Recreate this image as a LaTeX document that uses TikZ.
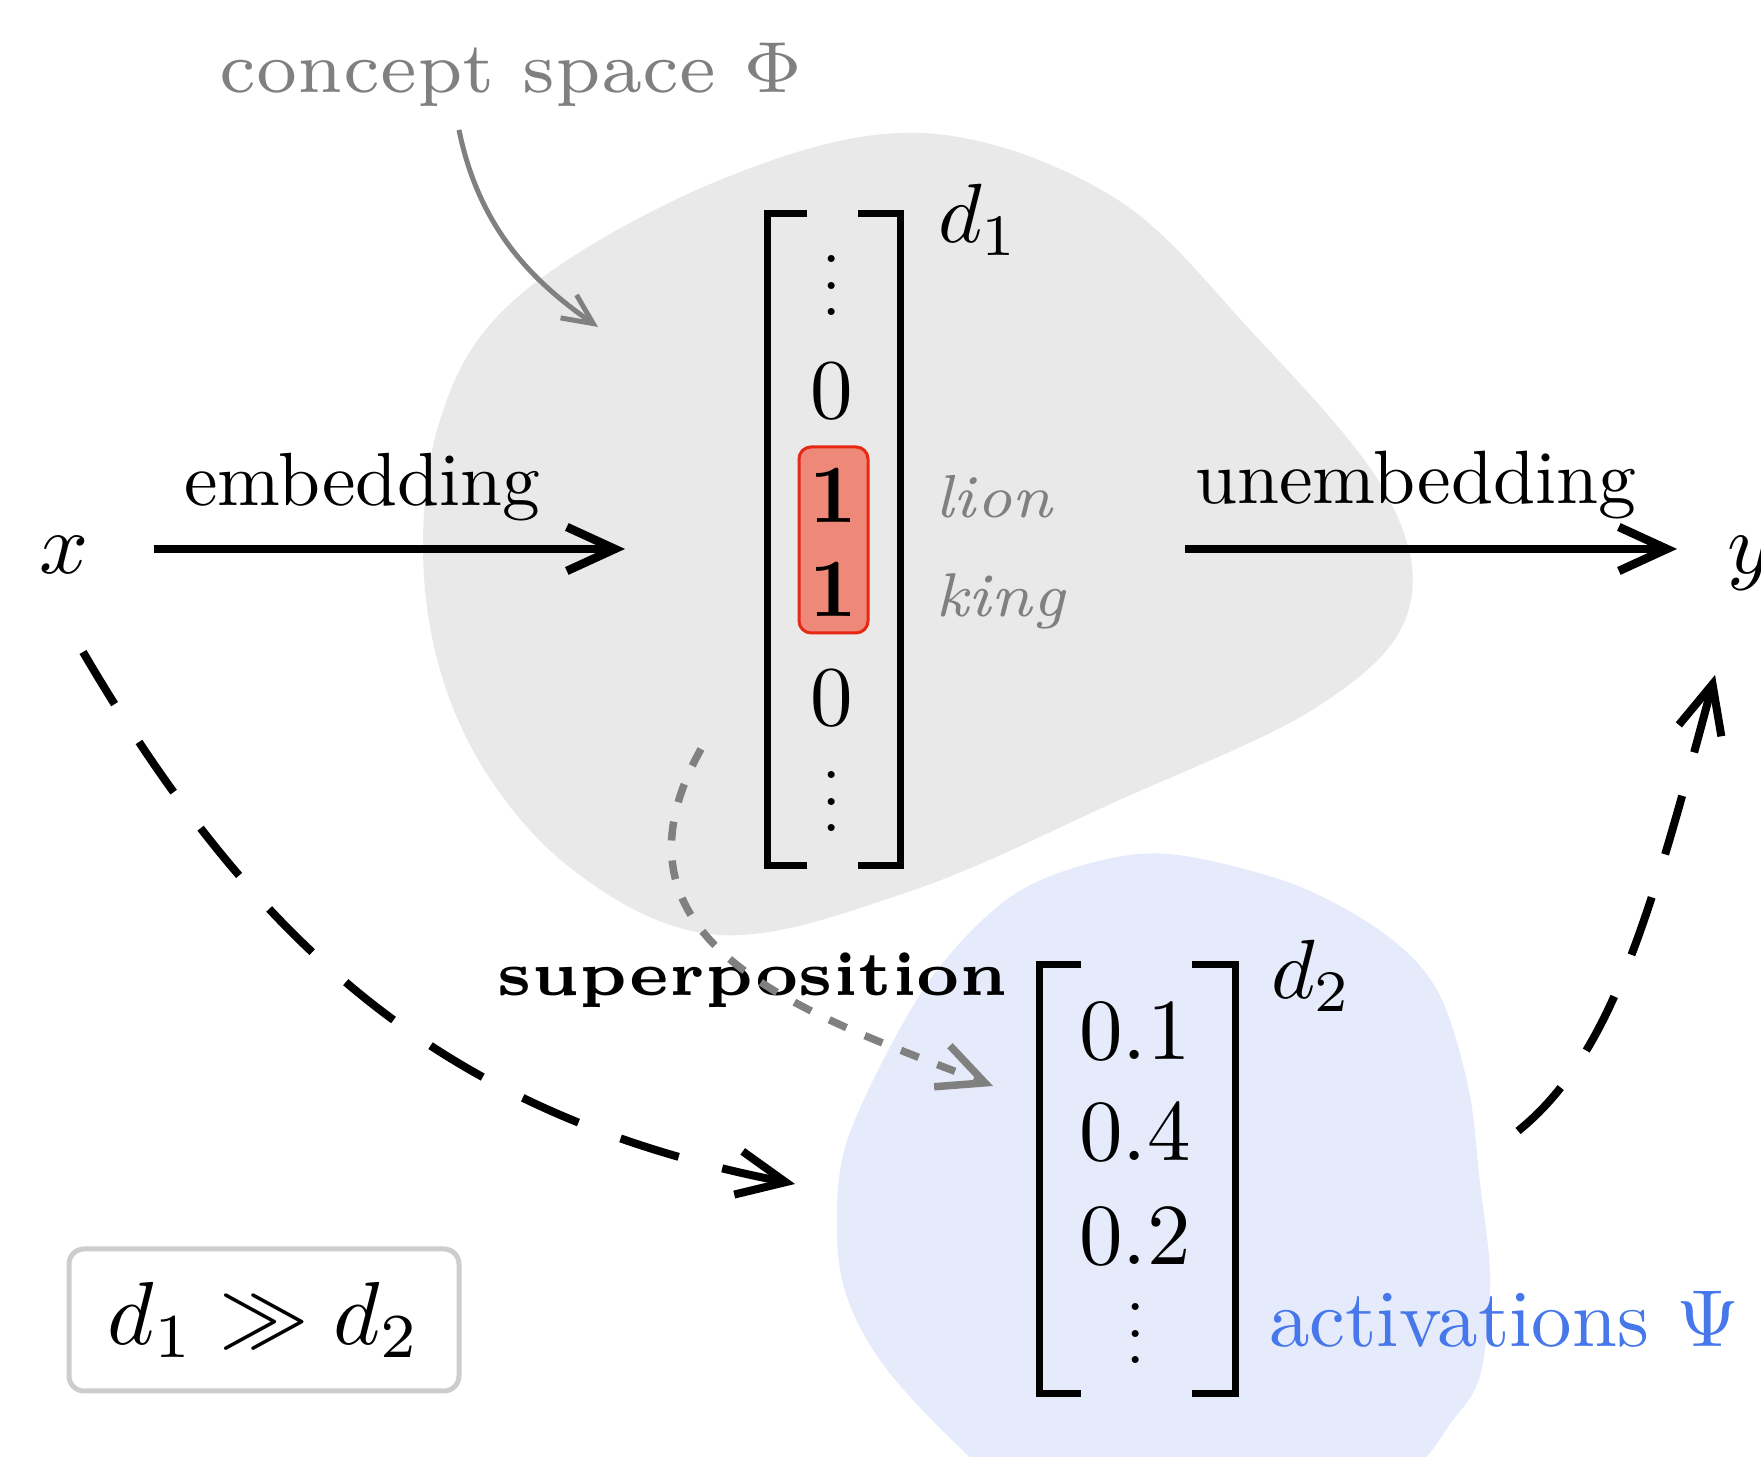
\documentclass[tikz,border=0pt]{standalone}
\usepackage{graphicx}
\usetikzlibrary{arrows.meta}
\definecolor{blobgray}{RGB}{233,233,233}
\definecolor{blobblue}{RGB}{229,235,250}
\definecolor{labelgray}{RGB}{128,128,128}
\definecolor{actblue}{RGB}{70,120,235}
\definecolor{hlfill}{RGB}{238,136,120}
\definecolor{hlline}{RGB}{230,40,20}
\definecolor{boxgray}{RGB}{205,205,205}
\newcommand{\fitw}[3]{\resizebox{#1}{!}{\fontsize{#2}{#2}\selectfont #3}}
\newcommand{\myvdots}{\scalebox{0.66}{\smash{$\vdots$}}}
\tikzset{
  solidarr/.style={line width=0.85pt,-{Straight Barb[length=4.8pt,width=4.4pt]}},
  dasharr/.style={line width=0.8pt,dash pattern=on 6.1pt off 4.5pt,-{Straight Barb[length=4.8pt,width=4.4pt]}},
  dotarr/.style={labelgray,line width=0.75pt,dash pattern=on 1.9pt off 2pt,-{Straight Barb[length=4.6pt,width=4.4pt]}},
  conarr/.style={labelgray,line width=0.5pt,-{Straight Barb[length=3pt,width=2.8pt]}},
  brk/.style={line width=0.7pt},
  hlbox/.style={fill=hlfill,draw=hlline,line width=0.3pt,rounded corners=1.2pt,minimum width=6.9pt,minimum height=18.6pt},
}
\begin{document}
\begin{tikzpicture}[x=0.1pt,y=-0.1pt,every node/.style={inner sep=0pt,outer sep=0pt}]
\useasboundingbox (0,0) rectangle (1761,1457);
\clip (0,0) rectangle (1761,1457);
% blobs
\fill[blobgray] plot[smooth cycle,tension=0.6] coordinates {(920,133) (1110,195) (1250,330) (1384,490) (1408,612) (1317,707) (1115,802) (911,891) (720,935) (573,870) (470,745) (425,590) (440,420) (520,295) (720,180)};
\fill[blobblue] plot[smooth cycle,tension=0.55] coordinates {(1168,854) (1290,883) (1382,932) (1437,990) (1468,1086) (1480,1183) (1490,1279) (1480,1376) (1450,1424) (1413,1470) (1300,1560) (1100,1560) (984,1470) (892,1376) (849,1303) (837,1231) (849,1135) (923,990) (1002,903) (1080,866)};
% top vector d1
\node[hlbox] (hl) at (833.5,540) {};
\draw[brk] (807,214) -- (767,214) -- (767,866) -- (807,866);
\draw[brk] (858,214) -- (900,214) -- (900,866) -- (858,866);
\node[anchor=base] (vd1) at (832,315.5) {\myvdots};
\node[anchor=base] (z1) at (832,419) {\scalebox{0.85}{0}};
\node[anchor=base] (one1) at (833,523) {\scalebox{0.83}{\bfseries 1}};
\node[anchor=base] (one2) at (833,617) {\scalebox{0.83}{\bfseries 1}};
\node[anchor=base] (z2) at (832,726) {\scalebox{0.85}{0}};
\node[anchor=base] (vd2) at (832,831.5) {\myvdots};
\node[anchor=base west] (dA) at (938,243) {\scalebox{0.84}{$d_1$}};
\node[anchor=base west,text=labelgray] (lion) at (935,518) {\fitw{11.8pt}{7}{\itshape lion}};
\node[anchor=base west,text=labelgray] (king) at (935,617) {\fitw{13.1pt}{7}{\itshape king}};
% bottom vector d2
\draw[brk] (1081,965) -- (1039,965) -- (1039,1394) -- (1081,1394);
\draw[brk] (1192,965) -- (1235,965) -- (1235,1394) -- (1192,1394);
\node[anchor=base] (a1) at (1135,1060) {\scalebox{0.87}{0.1}};
\node[anchor=base] (a2) at (1135,1161) {\scalebox{0.87}{0.4}};
\node[anchor=base] (a3) at (1135,1265) {\scalebox{0.87}{0.2}};
\node[anchor=base] (vd3) at (1136,1363.5) {\myvdots};
\node[anchor=base west] (dB) at (1271,999) {\scalebox{0.84}{$d_2$}};
\node[anchor=base west,text=actblue] (act) at (1269,1347) {\fitw{47pt}{10}{activations $\Psi$}};
% labels
\node[anchor=base west,text=labelgray] (concept) at (220,93) {\fitw{58.3pt}{7}{concept space $\Phi$}};
\node[anchor=base] (x) at (64,574) {\scalebox{0.86}{$x$}};
\node[anchor=base west] (y) at (1727,574) {\scalebox{0.86}{$y$}};
\node[anchor=base west] (emb) at (184,506) {\fitw{35.6pt}{10}{embedding}};
\node[anchor=base west] (unemb) at (1195,504) {\fitw{44.1pt}{10}{unembedding}};
\node[anchor=base west] (sup) at (497,996) {\fitw{51.1pt}{6}{\bfseries superposition}};
\node[draw=boxgray,line width=0.5pt,rounded corners=1.5pt,minimum width=39pt,minimum height=14.2pt] (cmp) at (264,1320) {\scalebox{0.895}{$d_1 \gg d_2$}};
% connector ends
\coordinate (embS) at (154,549);
\coordinate (embE) at (625,549);
\coordinate (unS) at (1185,549);
\coordinate (unE) at (1677,549);
\coordinate (xdS) at (83,652);
\coordinate (xdE) at (795,1184);
\coordinate (ayS) at (1518,1131);
\coordinate (ayE) at (1715,675);
\coordinate (spS) at (701,749);
\coordinate (spE) at (993,1086);
\coordinate (cS) at (459,130);
\coordinate (cE) at (598,327);
% connectors
\draw[solidarr] (embS) -- (embE);
\draw[solidarr] (unS) -- (unE);
\draw[dasharr] (xdS) .. controls (260,954) and (451,1117) .. (xdE);
\draw[dasharr] (ayS) .. controls (1611,1056) and (1650,917) .. (ayE);
\draw[dotarr] (spS) .. controls (592,945) and (807,1014) .. (spE);
\draw[conarr] (cS) .. controls (479,228) and (532,281) .. (cE);
\end{tikzpicture}
\end{document}
